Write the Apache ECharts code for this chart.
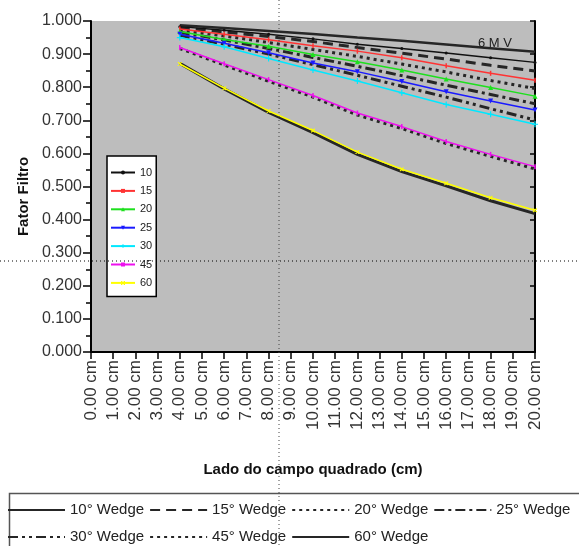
<!DOCTYPE html>
<html>
<head>
<meta charset="utf-8">
<script src="https://cdn.jsdelivr.net/npm/echarts@6/dist/echarts.min.js"></script>
<style>
  html, body { margin: 0; padding: 0; background: #fff; }
  #chart { width: 579px; height: 546px; }
</style>
</head>
<body>
<div id="chart"></div>
<script>
// categorias do eixo x (lado do campo, cm)
var fieldLabels = [];
for (var c = 0; c <= 20; c++) fieldLabels.push(c.toFixed(2) + ' cm');

// pontos medidos (cm)
var fieldSizes = [4, 6, 8, 10, 12, 14, 16, 18, 20];

// fator filtro - séries coloridas
var f10 = [0.983, 0.972, 0.960, 0.946, 0.930, 0.917, 0.903, 0.889, 0.875];
var f15 = [0.976, 0.960, 0.943, 0.925, 0.909, 0.889, 0.865, 0.842, 0.821];
var f20 = [0.968, 0.944, 0.924, 0.899, 0.877, 0.852, 0.825, 0.799, 0.773];
var f25 = [0.960, 0.933, 0.904, 0.873, 0.847, 0.817, 0.786, 0.758, 0.731];
var f30 = [0.950, 0.922, 0.887, 0.852, 0.819, 0.783, 0.748, 0.718, 0.688];
var f45 = [0.920, 0.871, 0.823, 0.775, 0.722, 0.681, 0.636, 0.597, 0.560];
var f60 = [0.870, 0.797, 0.728, 0.669, 0.604, 0.552, 0.510, 0.466, 0.428];

// fator filtro - curvas "Wedge" (preto)
var w10 = [0.987, 0.979, 0.970, 0.961, 0.950, 0.940, 0.929, 0.918, 0.907];
var w15 = [0.980, 0.967, 0.953, 0.938, 0.920, 0.903, 0.885, 0.866, 0.849];
var w20 = [0.973, 0.955, 0.935, 0.914, 0.893, 0.870, 0.846, 0.820, 0.796];
var w25 = [0.966, 0.943, 0.917, 0.890, 0.863, 0.835, 0.806, 0.778, 0.750];
var w30 = [0.957, 0.930, 0.900, 0.868, 0.836, 0.803, 0.770, 0.735, 0.701];
var w45 = [0.917, 0.867, 0.818, 0.770, 0.716, 0.675, 0.630, 0.591, 0.553];
var w60 = [0.872, 0.795, 0.724, 0.663, 0.597, 0.545, 0.502, 0.457, 0.418];

var colorNames = ['10', '15', '20', '25', '30', '45', '60'];
var wedgeNames = ['10° Wedge', '15° Wedge', '20° Wedge', '25° Wedge', '30° Wedge', '45° Wedge', '60° Wedge'];

function pts(vals) {
  return fieldSizes.map(function (f, i) { return [f, vals[i]]; });
}

var FONT = 'Liberation Sans, Arial, sans-serif';

function wedge(name, vals, dash, width) {
  return {
    name: name, type: 'line', data: pts(vals), symbol: 'none', z: 2,
    lineStyle: { color: '#262626', width: width, type: dash, cap: 'butt' },
    itemStyle: { color: '#262626' }
  };
}
function colored(name, vals, color, symbol, size, rot) {
  return {
    name: name, type: 'line', data: pts(vals), z: 5,
    symbol: symbol, symbolSize: size, symbolRotate: rot || 0,
    lineStyle: { color: color, width: 1.5 },
    itemStyle: { color: color }
  };
}

var chart = echarts.init(document.getElementById('chart'));
var option = {
  animation: false,
  textStyle: { fontFamily: FONT },
  grid: {
    left: 91, right: 44, top: 21, bottom: 194,
    show: true, backgroundColor: '#bdbdbd', borderWidth: 0
  },
  legend: [
    {
      data: colorNames,
      orient: 'vertical',
      left: 107, top: 156,
      padding: [11, 4, 8, 3],
      itemWidth: 24, itemHeight: 5, itemGap: 7.4,
      backgroundColor: '#fff', borderColor: '#000', borderWidth: 1.5,
      textStyle: { fontSize: 11, lineHeight: 10, color: '#222', fontFamily: FONT }
    },
    {
      data: wedgeNames,
      orient: 'horizontal',
      left: 7, top: 499, width: 579,
      padding: 0,
      itemWidth: 57, itemHeight: 10, itemGap: 5,
      itemStyle: { opacity: 0 },
      lineStyle: { width: 2 },
      textStyle: { fontSize: 15, lineHeight: 22, color: '#222', fontFamily: FONT }
    }
  ],
  xAxis: [
    {
      type: 'category', data: fieldLabels, boundaryGap: false,
      name: 'Lado do campo quadrado (cm)', nameLocation: 'middle', nameGap: 110,
      nameTextStyle: { fontSize: 15, fontWeight: 'bold', color: '#111', fontFamily: FONT },
      axisLine: { lineStyle: { color: '#000', width: 2 } },
      axisTick: { show: true, inside: false, length: 7, interval: 0, alignWithLabel: true, lineStyle: { color: '#000', width: 1.5 } },
      axisLabel: { rotate: 90, interval: 0, fontSize: 17, color: '#333', margin: 8, fontFamily: FONT },
      splitLine: { show: false }
    },
    {
      type: 'category', data: fieldLabels, boundaryGap: false, position: 'top',
      axisLine: { lineStyle: { color: '#000', width: 1.5 } },
      axisTick: { show: true, inside: true, length: 6, interval: 1, lineStyle: { color: '#000', width: 1.5 } },
      axisLabel: { show: false },
      splitLine: { show: false }
    }
  ],
  yAxis: [
    {
      type: 'value', min: 0, max: 1, interval: 0.1,
      name: 'Fator Filtro', nameLocation: 'middle', nameGap: 52,
      nameTextStyle: { fontSize: 15, fontWeight: 'bold', color: '#111', fontFamily: FONT, padding: [0, 20, 0, 0] },
      axisLine: { show: true, lineStyle: { color: '#000', width: 2 } },
      axisTick: { show: true, inside: false, length: 8, lineStyle: { color: '#000', width: 1.5 } },
      minorTick: { show: true, splitNumber: 2, length: 5, lineStyle: { color: '#000', width: 1.5 } },
      axisLabel: { fontSize: 16, color: '#333', margin: 9, fontFamily: FONT, formatter: function (v) { return v.toFixed(3); } },
      splitLine: { show: false }
    },
    {
      type: 'value', min: 0, max: 1, interval: 0.1, position: 'right',
      axisLine: { show: true, lineStyle: { color: '#000', width: 2 } },
      axisTick: { show: true, inside: true, length: 5, lineStyle: { color: '#000', width: 1.5 } },
      axisLabel: { show: false },
      splitLine: { show: false }
    }
  ],
  series: [
    wedge('10° Wedge', w10, 'solid', 2.5),
    wedge('15° Wedge', w15, [10, 6], 3),
    wedge('20° Wedge', w20, [3, 4], 3),
    wedge('25° Wedge', w25, [10, 4, 3, 4], 3),
    wedge('30° Wedge', w30, [10, 4, 3, 4, 3, 4], 3),
    wedge('45° Wedge', w45, [3, 4], 3),
    wedge('60° Wedge', w60, 'solid', 3),
    colored('10', f10, '#111111', 'circle', 3),
    colored('15', f15, '#ff3333', 'rect', [1.5, 5]),
    colored('20', f20, '#1ee01e', 'triangle', 5),
    colored('25', f25, '#1a1aff', 'triangle', 5, 180),
    colored('30', f30, '#00e8ff', 'path://M2,0H3V2H5V3H3V5H2V3H0V2H2Z', 6),
    colored('45', f45, '#ee11ee', 'rect', [1.5, 5]),
    colored('60', f60, '#ffff00', 'path://M0,0L1,0L5,4L5,5L4,5L0,1Z M4,0L5,0L5,1L1,5L0,5L0,4Z', 4)
  ],
  graphic: [
    {
      type: 'rect', left: 7, top: 491, z: 1, silent: true,
      shape: { width: 610, height: 70 },
      style: { fill: 'none', stroke: '#555', lineWidth: 1.5 }
    },
    {
      type: 'text', left: 478, top: 37, z: 10,
      style: { text: '6 M V', fontSize: 13, fill: '#222', fontFamily: FONT }
    },
    {
      type: 'line', z: 100, silent: true,
      shape: { x1: 0, y1: 261, x2: 579, y2: 261 },
      style: { stroke: '#000', lineWidth: 1, lineDash: [1, 3] }
    },
    {
      type: 'line', z: 100, silent: true,
      shape: { x1: 279, y1: 0, x2: 279, y2: 546 },
      style: { stroke: '#444', lineWidth: 1, lineDash: [1, 3] }
    }
  ]
};
chart.setOption(option);
</script>
</body>
</html>
